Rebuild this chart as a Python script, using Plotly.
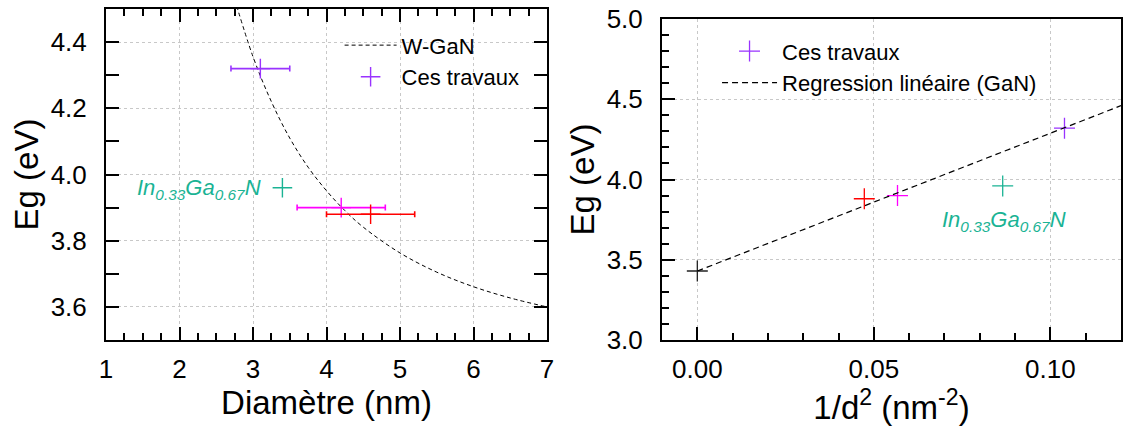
import plotly.graph_objects as go

# ---------------- data ----------------
# Left panel: W-GaN model curve
wgan_d = [2.75, 3.0, 3.25, 3.5, 3.75, 4.0, 4.25, 4.5, 5.0, 5.5, 6.0, 6.5, 7.0]
wgan_eg = [4.53, 4.356, 4.22, 4.11, 4.022, 3.951, 3.891, 3.841, 3.763, 3.705, 3.661, 3.627, 3.60]

# Left panel: measured points (diameter with error, gap)
sample_d = [3.1, 4.2, 4.6]
sample_d_err = [0.4, 0.6, 0.6]
sample_eg = [4.32, 3.90, 3.88]
sample_colors = ["#9933ff", "#ff00ff", "#ff0000"]

ingan_d = [3.4]
ingan_eg = [3.96]

# Right panel: 1/d^2 values
sample_inv_d2 = [0.104, 0.0567, 0.0473]
bulk_inv_d2 = [0.0]
bulk_eg = [3.43]
ingan_inv_d2 = [0.0865]

reg_x = [0.0, 0.12]
reg_y = [3.43, 4.46]

teal = "#1ab394"
FONT = "Liberation Sans, Arial, sans-serif"

fig = go.Figure()

# ---------------- left panel ----------------
fig.add_trace(go.Scatter(
    x=wgan_d, y=wgan_eg, mode="lines", name="W-GaN",
    line=dict(color="black", width=1, dash="4px,3px", shape="spline"),
    xaxis="x", yaxis="y", legend="legend", showlegend=True))

for i in range(len(sample_d)):
    fig.add_trace(go.Scatter(
        x=[sample_d[i]], y=[sample_eg[i]], mode="markers",
        name="Ces travaux",
        marker=dict(symbol="cross-thin", size=14,
                    line=dict(color=sample_colors[i], width=1.4)),
        error_x=dict(type="data", array=[sample_d_err[i]], color=sample_colors[i],
                     thickness=1.6, width=3),
        xaxis="x", yaxis="y", legend="legend", showlegend=(i == 0)))

fig.add_trace(go.Scatter(
    x=ingan_d, y=ingan_eg, mode="markers", name="InGaN",
    marker=dict(symbol="cross-thin", size=14, line=dict(color=teal, width=1.4)),
    xaxis="x", yaxis="y", showlegend=False))

# ---------------- right panel ----------------
fig.add_trace(go.Scatter(
    x=bulk_inv_d2, y=bulk_eg, mode="markers", name="GaN",
    marker=dict(symbol="cross-thin", size=15, line=dict(color="#222222", width=1.3)),
    xaxis="x2", yaxis="y2", showlegend=False))

order = [2, 1, 0]
for i in order:
    fig.add_trace(go.Scatter(
        x=[sample_inv_d2[i]], y=[sample_eg[i]], mode="markers",
        name="Ces travaux",
        marker=dict(symbol="cross-thin", size=15,
                    line=dict(color=sample_colors[i], width=1.3)),
        xaxis="x2", yaxis="y2", legend="legend2", showlegend=(i == 0)))

fig.add_trace(go.Scatter(
    x=ingan_inv_d2, y=ingan_eg, mode="markers", name="InGaN",
    marker=dict(symbol="cross-thin", size=15, line=dict(color=teal, width=1.3)),
    xaxis="x2", yaxis="y2", showlegend=False))

fig.add_trace(go.Scatter(
    x=reg_x, y=reg_y, mode="lines", name="Regression linéaire (GaN)",
    line=dict(color="black", width=1.2, dash="6px,4px"),
    xaxis="x2", yaxis="y2", legend="legend2", showlegend=True))

# ---------------- axes ----------------
common = dict(
    showline=True, linewidth=2, linecolor="black",
    ticks="inside", tickwidth=2, tickcolor="black",
    showgrid=True, gridcolor="#c8c8c8", griddash="dot", gridwidth=1,
    zeroline=False, tickfont=dict(size=26, family=FONT, color="black"),
    automargin=True,
)

fig.update_layout(
    width=1123, height=427,
    margin=dict(l=0, r=0, t=0, b=0, autoexpand=False),
    paper_bgcolor="white", plot_bgcolor="white",
    font=dict(family=FONT, color="black"),
    xaxis=dict(common, domain=[0.0944, 0.4871], range=[1, 7], dtick=1, tick0=0,
               ticklen=13, mirror="ticks", ticklabelstandoff=5,
               minor=dict(dtick=0.25, ticks="inside", ticklen=7, tickwidth=1.5,
                          tickcolor="black", showgrid=False),
               title=dict(text="Diamètre (nm)", font=dict(size=33), standoff=0),
               anchor="y"),
    yaxis=dict(common, domain=[0.2037, 0.9789], range=[3.5, 4.5], dtick=0.2, tick0=3.6,
               tickformat=".1f", ticklen=13, mirror="ticks", ticklabelstandoff=12,
               minor=dict(dtick=0.1, ticks="inside", ticklen=13, tickwidth=1.5,
                          tickcolor="black", showgrid=False),
               title=dict(text="Eg (eV)", font=dict(size=33), standoff=2),
               anchor="x"),
    xaxis2=dict(common, domain=[0.5895, 0.9982], range=[-0.01, 0.12], dtick=0.05, tick0=0,
                tickformat=".2f", ticklen=13, mirror=True, ticklabelstandoff=5,
                minor=dict(dtick=0.01, ticks="inside", ticklen=7, tickwidth=1.5,
                           tickcolor="black", showgrid=False),
                title=dict(text="1/d<sup>2</sup> (nm<sup>-2</sup>)", font=dict(size=33), standoff=0),
                anchor="y2"),
    yaxis2=dict(common, domain=[0.2037, 0.9555], range=[3.0, 5.0], dtick=0.5, tick0=3.0,
                tickformat=".1f", ticklen=13, mirror=True, ticklabelstandoff=12,
                minor=dict(dtick=0.1, ticks="inside", ticklen=7, tickwidth=1.5,
                           tickcolor="black", showgrid=False),
                title=dict(text="Eg (eV)", font=dict(size=33), standoff=2),
                anchor="x2"),
    legend=dict(x=0.3024, y=0.943, xanchor="left", yanchor="top",
                bgcolor="rgba(0,0,0,0)", borderwidth=0, itemwidth=52,
                font=dict(size=22, family=FONT, color="black")),
    legend2=dict(x=0.6385, y=0.929, xanchor="left", yanchor="top",
                 bgcolor="rgba(0,0,0,0)", borderwidth=0, itemwidth=55,
                 font=dict(size=22, family=FONT, color="black")),
)

fig.add_annotation(
    x=3.14, y=3.955, xref="x", yref="y", xanchor="right", yanchor="middle",
    text="<i>In<sub>0.33</sub>Ga<sub>0.67</sub>N</i>", showarrow=False,
    font=dict(size=22, family=FONT, color=teal))

fig.add_annotation(
    x=0.087, y=3.74, xref="x2", yref="y2", xanchor="center", yanchor="middle",
    text="<i>In<sub>0.33</sub>Ga<sub>0.67</sub>N</i>", showarrow=False,
    font=dict(size=22, family=FONT, color=teal))

fig.write_html("out.html",
               config={"displayModeBar": False},
               post_script="document.body.style.margin='0';document.body.style.overflow='hidden';")
